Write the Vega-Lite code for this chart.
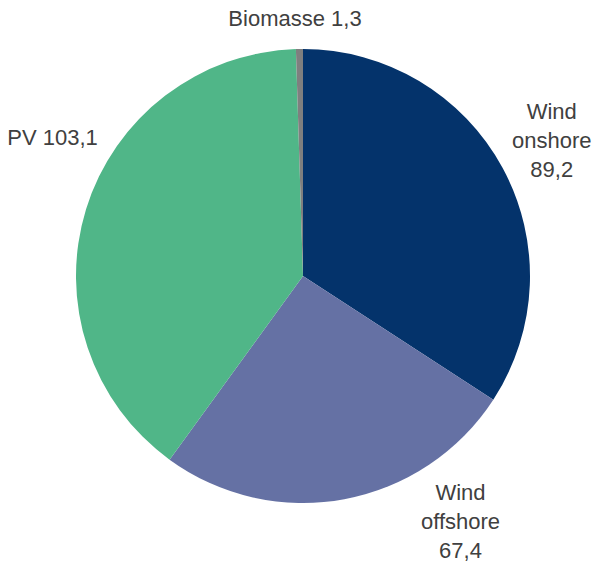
{
  "$schema": "https://vega.github.io/schema/vega-lite/v6.json",
  "width": 592,
  "height": 552,
  "autosize": {"type": "none"},
  "padding": {"left": 7, "right": 0, "top": 0, "bottom": 10},
  "background": "white",
  "view": {"stroke": null},
  "data": {
    "values": [
      {"Quelle": "Wind onshore", "Wert": 89.2, "i": 1, "Label": "Wind\nonshore\n89,2"},
      {"Quelle": "Wind offshore", "Wert": 67.4, "i": 2, "Label": "Wind\noffshore\n67,4"},
      {"Quelle": "PV", "Wert": 103.1, "i": 3, "Label": "PV 103,1"},
      {"Quelle": "Biomasse", "Wert": 1.3, "i": 4, "Label": "Biomasse 1,3"}
    ]
  },
  "encoding": {
    "theta": {"field": "Wert", "type": "quantitative", "stack": true},
    "order": {"field": "i", "type": "quantitative", "sort": "ascending"}
  },
  "layer": [
    {
      "mark": {"type": "arc", "radius": 227, "stroke": null},
      "encoding": {
        "color": {
          "field": "Quelle",
          "type": "nominal",
          "scale": {
            "domain": ["Wind onshore", "Wind offshore", "PV", "Biomasse"],
            "range": ["#04336B", "#6571A4", "#50B688", "#7F7F7F"]
          },
          "legend": null
        }
      }
    },
    {
      "mark": {"type": "text", "radius": 283, "dy": -29, "font": "Liberation Sans", "fontSize": 22, "color": "#404040", "lineBreak": "\n", "lineHeight": 29, "align": "center", "baseline": "middle"},
      "encoding": {
        "detail": {"field": "Quelle", "type": "nominal"},
        "text": {"condition": {"test": "datum.Quelle === 'Wind onshore'", "field": "Label"}, "value": ""}
      }
    },
    {
      "mark": {"type": "text", "radius": 250, "dx": 112, "dy": -29, "font": "Liberation Sans", "fontSize": 22, "color": "#404040", "lineBreak": "\n", "lineHeight": 29, "align": "center", "baseline": "middle"},
      "encoding": {
        "detail": {"field": "Quelle", "type": "nominal"},
        "text": {"condition": {"test": "datum.Quelle === 'Wind offshore'", "field": "Label"}, "value": ""}
      }
    },
    {
      "mark": {"type": "text", "radius": 262, "dy": -61, "font": "Liberation Sans", "fontSize": 22, "color": "#404040", "align": "center", "baseline": "middle"},
      "encoding": {
        "detail": {"field": "Quelle", "type": "nominal"},
        "text": {"condition": {"test": "datum.Quelle === 'PV'", "field": "Label"}, "value": ""}
      }
    },
    {
      "mark": {"type": "text", "radius": 257, "dx": -4, "font": "Liberation Sans", "fontSize": 22, "color": "#404040", "align": "center", "baseline": "middle"},
      "encoding": {
        "detail": {"field": "Quelle", "type": "nominal"},
        "text": {"condition": {"test": "datum.Quelle === 'Biomasse'", "field": "Label"}, "value": ""}
      }
    }
  ]
}
